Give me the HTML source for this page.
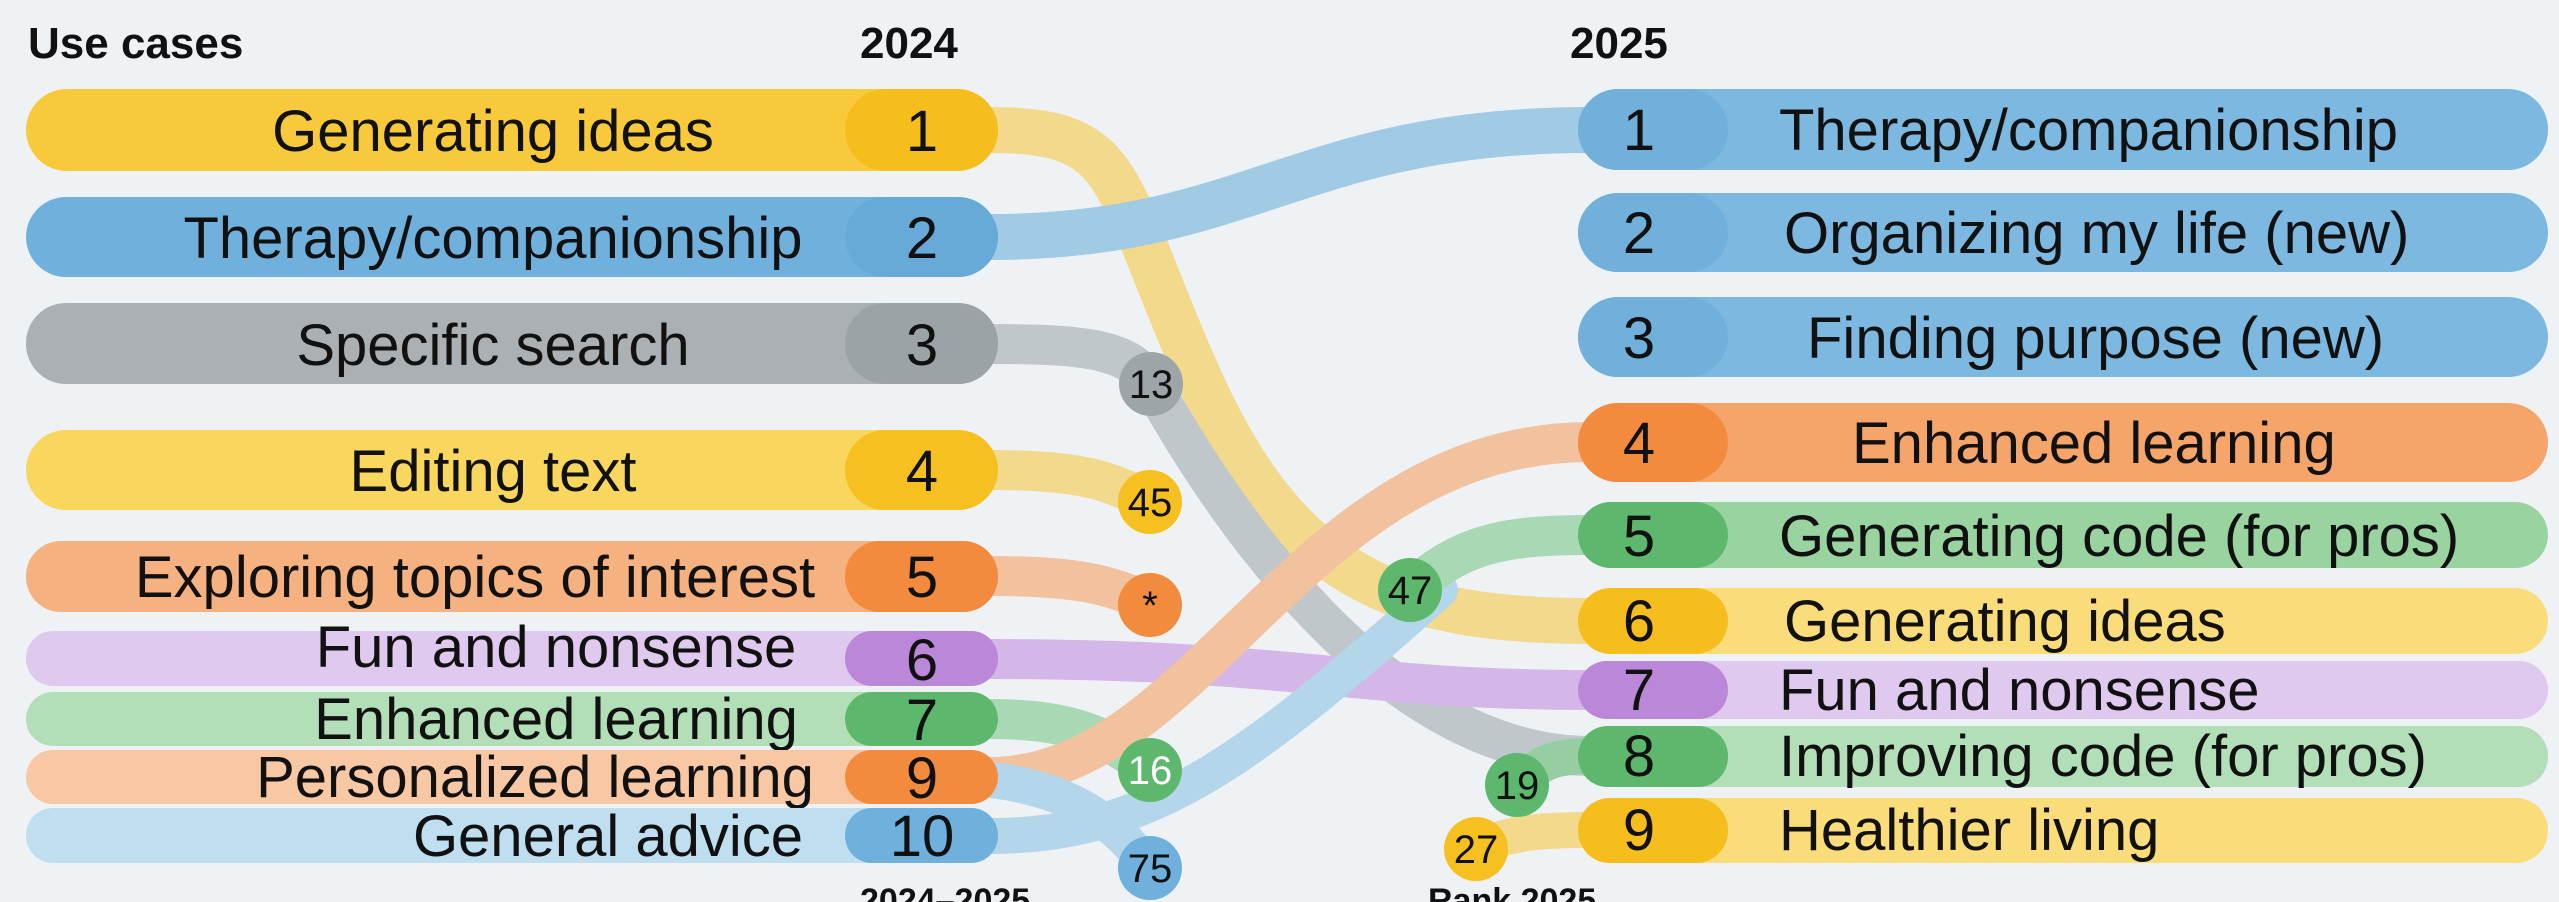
<!DOCTYPE html>
<html><head><meta charset="utf-8"><style>
html,body{margin:0;padding:0;background:#eef2f5;}
svg{display:block;font-family:"Liberation Sans",sans-serif;}
</style></head><body>
<svg width="2559" height="902" viewBox="0 0 2559 902" xmlns="http://www.w3.org/2000/svg">
<rect width="2559" height="902" fill="#eef2f5"/>
<text x="28" y="58" font-size="44" font-weight="bold" fill="#111">Use cases</text>
<text x="860" y="58" font-size="44" font-weight="bold" fill="#111">2024</text>
<text x="1570" y="58" font-size="44" font-weight="bold" fill="#111">2025</text>

<g fill="none" stroke-linecap="round" opacity="0.6">
<path d="M990 130 C1130 130,1110 180,1200 380 S1400 621,1590 621" stroke="#f7c948" stroke-width="46"/>
<path d="M990 237 C1250 237,1300 130,1590 130" stroke="#6fb1dc" stroke-width="46"/>
<path d="M990 344 C1090 344,1130 350,1151 384 S1350 756,1590 756" stroke="#a3abb0" stroke-width="40"/>
<path d="M990 470 C1080 470,1110 480,1150 502" stroke="#f7c948" stroke-width="40"/>
<path d="M990 576 C1080 576,1110 585,1150 603" stroke="#f5a366" stroke-width="40"/>
<path d="M990 659 C1300 659,1350 690,1590 690" stroke="#c58fe0" stroke-width="40"/>
<path d="M990 719 C1080 719,1110 740,1150 770" stroke="#7cc98a" stroke-width="40"/>
<path d="M990 777 C1200 777,1300 442,1590 442" stroke="#f5a366" stroke-width="40"/>
<path d="M990 836 C1150 836,1250 760,1440 590" stroke="#8cc4e6" stroke-width="36"/>
<path d="M990 780 C1080 790,1120 830,1150 868" stroke="#8cc4e6" stroke-width="36"/>
<path d="M1410 590 C1460 545,1500 535,1590 535" stroke="#7cc98a" stroke-width="40"/>
<path d="M1517 785 C1540 760,1560 756,1590 756" stroke="#5cb76c" stroke-width="36"/>
<path d="M1476 849 C1510 832,1540 830,1590 830" stroke="#f7c948" stroke-width="36"/>
</g>

<!-- left bars -->
<g font-size="58" fill="#111" text-anchor="middle">
<rect x="26" y="89" width="972" height="82" rx="41" fill="#f8c93a"/><rect x="845" y="89" width="153" height="82" rx="41" fill="#f6be1c"/>
<text x="493" y="151">Generating ideas</text><text x="922" y="151">1</text>
<rect x="26" y="197" width="972" height="80" rx="40" fill="#6fb1dc"/><rect x="845" y="197" width="153" height="80" rx="40" fill="#67aad8"/>
<text x="493" y="258">Therapy/companionship</text><text x="922" y="258">2</text>
<rect x="26" y="303" width="972" height="81" rx="40" fill="#aab0b4"/><rect x="845" y="303" width="153" height="81" rx="40" fill="#9ca3a7"/>
<text x="493" y="365">Specific search</text><text x="922" y="365">3</text>
<rect x="26" y="430" width="972" height="80" rx="40" fill="#f9d65e"/><rect x="845" y="430" width="153" height="80" rx="40" fill="#f6c021"/>
<text x="493" y="491">Editing text</text><text x="922" y="491">4</text>
<rect x="26" y="541" width="972" height="71" rx="35" fill="#f6b181"/><rect x="845" y="541" width="153" height="71" rx="35" fill="#f28b3e"/>
<text x="475" y="597">Exploring topics of interest</text><text x="922" y="597">5</text>
<rect x="26" y="631" width="972" height="55" rx="27" fill="#e0c9ee"/><rect x="845" y="631" width="153" height="55" rx="27" fill="#bb87d8"/>
<text x="556" y="667">Fun and nonsense</text><text x="922" y="680">6</text>
<rect x="26" y="692" width="972" height="54" rx="27" fill="#b3dfb8"/><rect x="845" y="692" width="153" height="54" rx="27" fill="#5db86d"/>
<text x="556" y="739">Enhanced learning</text><text x="922" y="740">7</text>
<rect x="26" y="750" width="972" height="54" rx="27" fill="#f8c8a4"/><rect x="845" y="750" width="153" height="54" rx="27" fill="#f28b3e"/>
<text x="535" y="797">Personalized learning</text><text x="922" y="798">9</text>
<rect x="26" y="808" width="972" height="55" rx="27" fill="#bfdeef"/><rect x="845" y="808" width="153" height="55" rx="27" fill="#6fb1dc"/>
<text x="608" y="856">General advice</text><text x="922" y="856">10</text>
</g>

<!-- right bars -->
<g font-size="58" fill="#111">
<rect x="1578" y="89" width="970" height="81" rx="40" fill="#7cb8df"/><rect x="1578" y="89" width="150" height="81" rx="40" fill="#70b0db"/>
<text x="1639" y="150" text-anchor="middle">1</text><text x="1779" y="150">Therapy/companionship</text>
<rect x="1578" y="193" width="970" height="79" rx="40" fill="#7cb8df"/><rect x="1578" y="193" width="150" height="79" rx="40" fill="#70b0db"/>
<text x="1639" y="253" text-anchor="middle">2</text><text x="1784" y="253">Organizing my life (new)</text>
<rect x="1578" y="297" width="970" height="80" rx="40" fill="#7cb8df"/><rect x="1578" y="297" width="150" height="80" rx="40" fill="#70b0db"/>
<text x="1639" y="358" text-anchor="middle">3</text><text x="1807" y="358">Finding purpose (new)</text>
<rect x="1578" y="403" width="970" height="79" rx="40" fill="#f5a46a"/><rect x="1578" y="403" width="150" height="79" rx="40" fill="#f28b3e"/>
<text x="1639" y="463" text-anchor="middle">4</text><text x="1852" y="463">Enhanced learning</text>
<rect x="1578" y="502" width="970" height="66" rx="33" fill="#98d3a0"/><rect x="1578" y="502" width="150" height="66" rx="33" fill="#5db86d"/>
<text x="1639" y="556" text-anchor="middle">5</text><text x="1779" y="556">Generating code (for pros)</text>
<rect x="1578" y="588" width="970" height="66" rx="33" fill="#fbdc7a"/><rect x="1578" y="588" width="150" height="66" rx="33" fill="#f6be1c"/>
<text x="1639" y="641" text-anchor="middle">6</text><text x="1784" y="641">Generating ideas</text>
<rect x="1578" y="661" width="970" height="58" rx="29" fill="#e0c9ee"/><rect x="1578" y="661" width="150" height="58" rx="29" fill="#bb87d8"/>
<text x="1639" y="710" text-anchor="middle">7</text><text x="1779" y="710">Fun and nonsense</text>
<rect x="1578" y="726" width="970" height="61" rx="30" fill="#b3dfb8"/><rect x="1578" y="726" width="150" height="61" rx="30" fill="#5db86d"/>
<text x="1639" y="776" text-anchor="middle">8</text><text x="1779" y="776">Improving code (for pros)</text>
<rect x="1578" y="798" width="970" height="65" rx="32" fill="#fbdc7a"/><rect x="1578" y="798" width="150" height="65" rx="32" fill="#f6be1c"/>
<text x="1639" y="850" text-anchor="middle">9</text><text x="1779" y="850">Healthier living</text>
</g>

<!-- bubbles -->
<g font-size="40" fill="#111" text-anchor="middle">
<circle cx="1151" cy="384" r="32" fill="#9ea5a9"/><text x="1151" y="398">13</text>
<circle cx="1150" cy="502" r="32" fill="#f6c021"/><text x="1150" y="516">45</text>
<circle cx="1150" cy="605" r="32" fill="#f28b3e"/><text x="1150" y="619">*</text>
<circle cx="1150" cy="770" r="32" fill="#5db86d"/><text x="1150" y="784" fill="#fff">16</text>
<circle cx="1150" cy="868" r="32" fill="#6fb1dc"/><text x="1150" y="882">75</text>
<circle cx="1410" cy="590" r="32" fill="#5db86d"/><text x="1410" y="604">47</text>
<circle cx="1517" cy="785" r="32" fill="#5db86d"/><text x="1517" y="799">19</text>
<circle cx="1476" cy="849" r="32" fill="#f6c021"/><text x="1476" y="863">27</text>
</g>
<text x="860" y="912" font-size="34" font-weight="bold" fill="#111">2024–2025</text>
<text x="1428" y="912" font-size="34" font-weight="bold" fill="#111">Rank 2025</text>
</svg>
</body></html>
